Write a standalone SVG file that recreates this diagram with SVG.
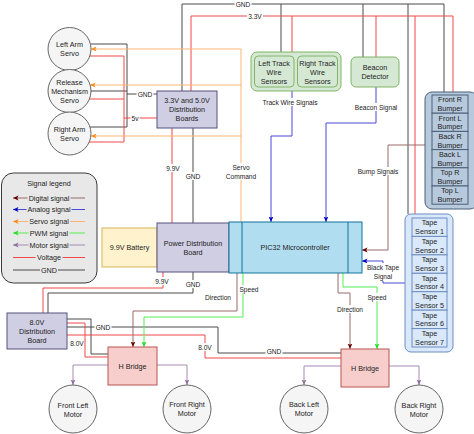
<svg xmlns="http://www.w3.org/2000/svg" width="474" height="434" viewBox="0 0 474 434">
<defs>
<style>
text{font-family:"Liberation Sans",Arial,sans-serif;fill:#222;text-anchor:middle;dominant-baseline:central}
.n{font-size:7.2px}
.e{font-size:6.6px}
.ln{fill:none;stroke-width:1}
.gnd{stroke:#4a4a4a}
.v{stroke:#f04848}
.dig{stroke:#9c6a6a}
.ana{stroke:#4848d8}
.srv{stroke:#ffb570}
.pwm{stroke:#55ee55}
.mot{stroke:#a58ab5}
.bg{fill:#fff}
.lbg{fill:#e8e8e8}
.lav{fill:#d0cee2;stroke:#56517e;stroke-width:1}
.grn{fill:#d5e8d4;stroke:#82b366;stroke-width:1}
.circ{fill:#f5f5f5;stroke:#666;stroke-width:1}
.hb{fill:#f8cecc;stroke:#b85450;stroke-width:1}
.tape{fill:#dae8fc;stroke:#6c8ebf;stroke-width:1}
.bump{fill:#b7c9dc;stroke:#4a6078;stroke-width:1}
</style>
<marker id="mDig" viewBox="0 0 6 6" refX="5.5" refY="3" markerWidth="6" markerHeight="6" markerUnits="userSpaceOnUse" orient="auto"><path d="M0,0.6 L5.5,3 L0,5.4 L1.3,3Z" fill="#660000"/></marker>
<marker id="mAna" viewBox="0 0 6 6" refX="5.5" refY="3" markerWidth="6" markerHeight="6" markerUnits="userSpaceOnUse" orient="auto"><path d="M0,0.6 L5.5,3 L0,5.4 L1.3,3Z" fill="#0000cc"/></marker>
<marker id="mSrv" viewBox="0 0 6 6" refX="5.5" refY="3" markerWidth="6" markerHeight="6" markerUnits="userSpaceOnUse" orient="auto"><path d="M0,0.6 L5.5,3 L0,5.4 L1.3,3Z" fill="#ff8c1a"/></marker>
<marker id="mPwm" viewBox="0 0 6 6" refX="5.5" refY="3" markerWidth="6" markerHeight="6" markerUnits="userSpaceOnUse" orient="auto"><path d="M0,0.6 L5.5,3 L0,5.4 L1.3,3Z" fill="#22dd22"/></marker>
<marker id="mMot" viewBox="0 0 6 6" refX="5.5" refY="3" markerWidth="6" markerHeight="6" markerUnits="userSpaceOnUse" orient="auto"><path d="M0,0.6 L5.5,3 L0,5.4 L1.3,3Z" fill="#8e6fa0"/></marker>
</defs>
<rect width="474" height="434" fill="#fff"/>

<g id="connectors">
<!-- GND -->
<path class="ln gnd" d="M182,91 V4 H444 V92"/>
<path class="ln gnd" d="M281,4 V52 M363,4 V57 M408,4 V214"/>
<path class="ln gnd" d="M91,44 H127 V127 H90 M91,91 H127 M127,94 H157"/>
<path class="ln gnd" d="M193,128 V223"/>
<path class="ln gnd" d="M193,272 V293 H48 V313"/>
<path class="ln gnd" d="M67,319 H91 V354 H108"/>
<path class="ln gnd" d="M67,327 H218 V353 H341"/>
<!-- Voltage -->
<path class="ln v" d="M191,91 V16 H453 V92"/>
<path class="ln v" d="M292,16 V52 M376,16 V57 M415,16 V214"/>
<path class="ln v" d="M88,56 H124 V142 H88 M89,99 H124 M124,118 H157"/>
<path class="ln v" d="M172,128 V223"/>
<path class="ln v" d="M163,272 V288 H43 V313"/>
<path class="ln v" d="M67,323 H85 V357 H108"/>
<path class="ln v" d="M67,335 H205 V358 H341"/>
<!-- Servo -->
<path class="ln srv" d="M241,223 V49 H91" marker-end="url(#mSrv)"/>
<path class="ln srv" d="M241,85 H90" marker-end="url(#mSrv)"/>
<path class="ln srv" d="M241,136 H91" marker-end="url(#mSrv)"/>
<!-- Analog -->
<path class="ln ana" d="M292,91 V136 H271 V222" marker-end="url(#mAna)"/>
<path class="ln ana" d="M376,87 V123 H326 V222" marker-end="url(#mAna)"/>
<path class="ln ana" d="M405,283 H383 V261 H362" marker-end="url(#mAna)"/>
<!-- Digital -->
<path class="ln dig" d="M425,145 H388 V250 H362" marker-end="url(#mDig)"/>
<path class="ln dig" d="M237,273 V311 H133 V347" marker-end="url(#mDig)"/>
<path class="ln dig" d="M338,273 V293 H350 V349" marker-end="url(#mDig)"/>
<!-- PWM -->
<path class="ln pwm" d="M243,273 V317 H144 V347" marker-end="url(#mPwm)"/>
<path class="ln pwm" d="M343,273 V287 H377 V349" marker-end="url(#mPwm)"/>
<!-- Motor -->
<path class="ln mot" d="M108,365 H73 V385" marker-end="url(#mMot)"/>
<path class="ln mot" d="M157,365 H187 V385" marker-end="url(#mMot)"/>
<path class="ln mot" d="M341,366 H304 V385" marker-end="url(#mMot)"/>
<path class="ln mot" d="M389,366 H419 V385" marker-end="url(#mMot)"/>

<!-- edge labels -->
<rect class="bg" x="234.5" y="0" width="17" height="8"/><text class="e" x="243" y="4">GND</text>
<rect class="bg" x="247" y="12" width="16" height="8"/><text class="e" x="255" y="16">3.3V</text>
<rect class="bg" x="136.5" y="90" width="17" height="8"/><text class="e" x="145" y="94">GND</text>
<rect class="bg" x="130.5" y="114" width="9" height="8"/><text class="e" x="135" y="118">5v</text>
<rect class="bg" x="261" y="98" width="58" height="8"/><text class="e" x="290" y="102">Track Wire Signals</text>
<rect class="bg" x="353.5" y="103" width="45" height="8"/><text class="e" x="376" y="107">Beacon Signal</text>
<rect class="bg" x="356.5" y="167" width="43" height="8"/><text class="e" x="378" y="171">Bump Signals</text>
<rect class="bg" x="365" y="263" width="36" height="18"/><text class="e" x="383" y="267.5">Black Tape</text><text class="e" x="383" y="276.5">Signal</text>
<rect class="bg" x="165" y="164" width="16" height="8"/><text class="e" x="173" y="168">9.9V</text>
<rect class="bg" x="184.5" y="172" width="17" height="8"/><text class="e" x="193" y="176">GND</text>
<rect class="bg" x="225" y="163" width="32" height="17"/><text class="e" x="241" y="167.5">Servo</text><text class="e" x="241" y="176.5">Command</text>
<rect class="bg" x="154" y="277" width="16" height="8"/><text class="e" x="162" y="281">9.9V</text>
<rect class="bg" x="184.5" y="280" width="17" height="8"/><text class="e" x="193" y="284">GND</text>
<rect class="bg" x="204" y="293" width="28" height="8"/><text class="e" x="218" y="297">Direction</text>
<rect class="bg" x="238.5" y="285" width="21" height="8"/><text class="e" x="249" y="289">Speed</text>
<rect class="bg" x="94.5" y="323" width="17" height="8"/><text class="e" x="103" y="327">GND</text>
<rect class="bg" x="69" y="339" width="15" height="8"/><text class="e" x="77" y="343">8.0V</text>
<rect class="bg" x="197" y="343" width="16" height="8"/><text class="e" x="205" y="347">8.0V</text>
<rect class="bg" x="265.5" y="347" width="17" height="8"/><text class="e" x="274" y="351">GND</text>
<rect class="bg" x="366.5" y="293" width="21" height="8"/><text class="e" x="377" y="297">Speed</text>
<rect class="bg" x="336" y="305" width="28" height="8"/><text class="e" x="350" y="309">Direction</text>
</g>

<g id="servo-left-arm"><circle class="circ" cx="69.5" cy="49" r="21.5"/><text class="n" x="69.5" y="44.5">Left Arm</text><text class="n" x="69.5" y="53.5">Servo</text></g>
<g id="servo-release"><circle class="circ" cx="69.5" cy="91" r="21.5"/><text class="n" x="69.5" y="82">Release</text><text class="n" x="69.5" y="91">Mechanism</text><text class="n" x="69.5" y="100">Servo</text></g>
<g id="servo-right-arm"><circle class="circ" cx="69.5" cy="133.5" r="21.5"/><text class="n" x="69.5" y="129">Right Arm</text><text class="n" x="69.5" y="138">Servo</text></g>

<g id="dist-3v3-5v"><rect class="lav" x="157" y="91" width="60" height="37"/><text class="n" x="187" y="100">3.3V and 5.0V</text><text class="n" x="187" y="109">Distribution</text><text class="n" x="187" y="118">Boards</text></g>

<g id="track-wire-sensors"><rect class="grn" x="251" y="52" width="90" height="39" rx="6"/>
<rect class="grn" x="254.5" y="56" width="39.5" height="31" rx="4"/><text class="n" x="274" y="63">Left Track</text><text class="n" x="274" y="72">Wire</text><text class="n" x="274" y="81">Sensors</text>
<rect class="grn" x="297.5" y="56" width="40" height="31" rx="4"/><text class="n" x="317.5" y="63">Right Track</text><text class="n" x="317.5" y="72">Wire</text><text class="n" x="317.5" y="81">Sensors</text></g>

<g id="beacon-detector"><rect class="grn" x="351" y="57" width="48" height="30" rx="5"/><text class="n" x="375" y="67">Beacon</text><text class="n" x="375" y="76">Detector</text></g>

<g id="bumpers"><rect class="bump" x="425" y="92" width="52" height="117" rx="7"/>
<rect class="bump" x="432" y="95" width="36" height="18.2"/><text class="n" x="450" y="99.8">Front R</text><text class="n" x="450" y="108.6">Bumper</text>
<rect class="bump" x="432" y="113.2" width="36" height="18.2"/><text class="n" x="450" y="118">Front L</text><text class="n" x="450" y="126.8">Bumper</text>
<rect class="bump" x="432" y="131.4" width="36" height="18.2"/><text class="n" x="450" y="136.2">Back R</text><text class="n" x="450" y="145">Bumper</text>
<rect class="bump" x="432" y="149.6" width="36" height="18.2"/><text class="n" x="450" y="154.4">Back L</text><text class="n" x="450" y="163.2">Bumper</text>
<rect class="bump" x="432" y="167.8" width="36" height="18.2"/><text class="n" x="450" y="172.6">Top R</text><text class="n" x="450" y="181.4">Bumper</text>
<rect class="bump" x="432" y="186" width="36" height="18.2"/><text class="n" x="450" y="190.8">Top L</text><text class="n" x="450" y="199.6">Bumper</text></g>

<g id="legend"><rect x="1.5" y="173" width="95.5" height="110" rx="12" fill="#e8e8e8" stroke="#3a3a3a" stroke-width="1"/>
<text class="n" x="49" y="183">Signal legend</text>
<path class="ln" stroke="#9c6a6a" d="M85,198 H13" marker-end="url(#mDig)"/>
<path class="ln" stroke="#4848d8" d="M85,209.5 H13" marker-end="url(#mAna)"/>
<path class="ln" stroke="#ffb570" d="M85,221.5 H13" marker-end="url(#mSrv)"/>
<path class="ln" stroke="#55ee55" d="M85,233 H13" marker-end="url(#mPwm)"/>
<path class="ln" stroke="#a58ab5" d="M85,245 H13" marker-end="url(#mMot)"/>
<path class="ln" stroke="#f04848" d="M85,257.5 H13"/>
<path class="ln" stroke="#4a4a4a" d="M85,270 H13"/>
<rect class="lbg" x="27.5" y="194" width="43" height="8"/><text class="n" x="49" y="198">Digital signal</text>
<rect class="lbg" x="26.5" y="205.5" width="45" height="8"/><text class="n" x="49" y="209.5">Analog signal</text>
<rect class="lbg" x="28" y="217.5" width="42" height="8"/><text class="n" x="49" y="221.5">Servo signal</text>
<rect class="lbg" x="28.5" y="229" width="41" height="8"/><text class="n" x="49" y="233">PWM signal</text>
<rect class="lbg" x="28.5" y="241" width="41" height="8"/><text class="n" x="49" y="245">Motor signal</text>
<rect class="lbg" x="35.5" y="253.5" width="27" height="8"/><text class="n" x="49" y="257.5">Voltage</text>
<rect class="lbg" x="40" y="266" width="18" height="8"/><text class="n" x="49" y="270">GND</text></g>

<g id="battery"><rect x="102" y="228" width="55" height="39" fill="#fff2cc" stroke="#d6b656" stroke-width="1"/><text class="n" x="129.5" y="247.5">9.9V Battery</text></g>

<g id="power-distribution-board"><rect class="lav" x="157" y="223" width="72" height="49"/><text class="n" x="193" y="243.5">Power Distribution</text><text class="n" x="193" y="252.5">Board</text></g>

<g id="pic32"><rect x="229" y="222" width="133" height="51" fill="#b1ddf0" stroke="#10739e" stroke-width="1"/><path d="M242,222 V273 M348,222 V273" stroke="#10739e" stroke-width="1" fill="none"/><text class="n" x="295" y="247.5">PIC32 Microcontroller</text></g>

<g id="tape-sensors"><rect class="tape" x="405" y="214" width="48" height="138" rx="6"/>
<rect class="tape" x="412" y="218" width="35" height="18.43"/><text class="n" x="429.5" y="222.8">Tape</text><text class="n" x="429.5" y="231.6">Sensor 1</text>
<rect class="tape" x="412" y="236.43" width="35" height="18.43"/><text class="n" x="429.5" y="241.2">Tape</text><text class="n" x="429.5" y="250">Sensor 2</text>
<rect class="tape" x="412" y="254.86" width="35" height="18.43"/><text class="n" x="429.5" y="259.7">Tape</text><text class="n" x="429.5" y="268.5">Sensor 3</text>
<rect class="tape" x="412" y="273.29" width="35" height="18.43"/><text class="n" x="429.5" y="278.1">Tape</text><text class="n" x="429.5" y="286.9">Sensor 4</text>
<rect class="tape" x="412" y="291.72" width="35" height="18.43"/><text class="n" x="429.5" y="296.5">Tape</text><text class="n" x="429.5" y="305.3">Sensor 5</text>
<rect class="tape" x="412" y="310.15" width="35" height="18.43"/><text class="n" x="429.5" y="315">Tape</text><text class="n" x="429.5" y="323.8">Sensor 6</text>
<rect class="tape" x="412" y="328.58" width="35" height="18.43"/><text class="n" x="429.5" y="333.4">Tape</text><text class="n" x="429.5" y="342.2">Sensor 7</text></g>

<g id="dist-8v"><rect class="lav" x="7" y="313" width="60" height="36"/><text class="n" x="37" y="322">8.0V</text><text class="n" x="37" y="331">Distribution</text><text class="n" x="37" y="340">Board</text></g>

<g id="hbridge-front"><rect class="hb" x="108" y="347" width="49" height="38"/><text class="n" x="132.5" y="366">H Bridge</text></g>
<g id="hbridge-back"><rect class="hb" x="341" y="349" width="48" height="38"/><text class="n" x="365" y="368">H Bridge</text></g>

<g id="motor-front-left"><circle class="circ" cx="73" cy="409" r="24"/><text class="n" x="73" y="405">Front Left</text><text class="n" x="73" y="414">Motor</text></g>
<g id="motor-front-right"><circle class="circ" cx="187" cy="409" r="24"/><text class="n" x="187" y="404.5">Front Right</text><text class="n" x="187" y="413.5">Motor</text></g>
<g id="motor-back-left"><circle class="circ" cx="304" cy="409" r="24"/><text class="n" x="304" y="404.5">Back Left</text><text class="n" x="304" y="413.5">Motor</text></g>
<g id="motor-back-right"><circle class="circ" cx="419" cy="409" r="24"/><text class="n" x="419" y="405">Back Right</text><text class="n" x="419" y="414">Motor</text></g>
</svg>
